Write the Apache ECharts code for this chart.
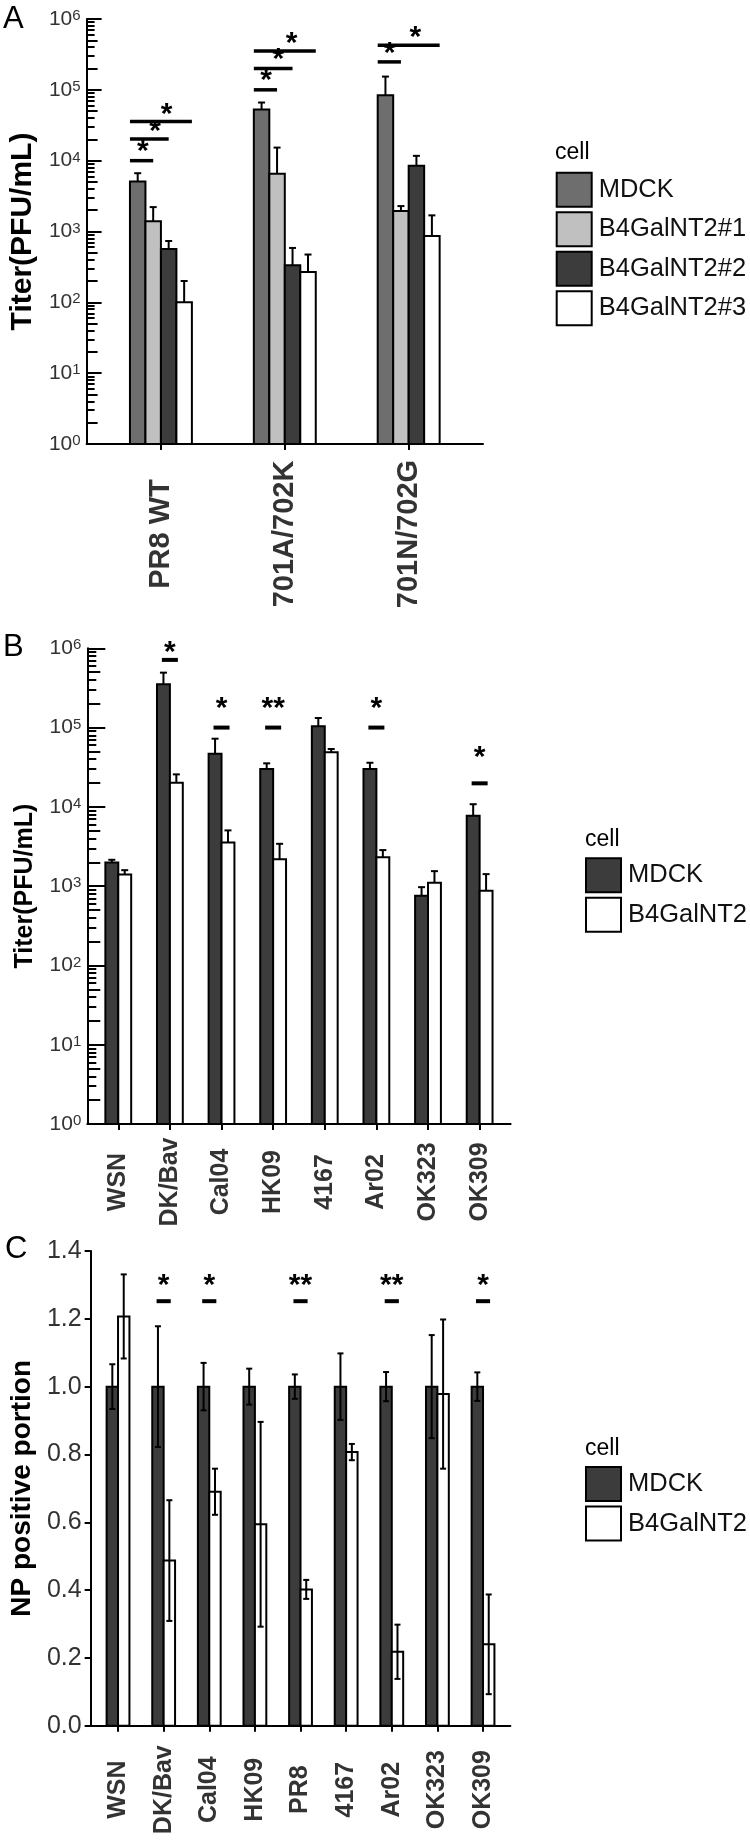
<!DOCTYPE html>
<html><head><meta charset="utf-8">
<script src="https://cdn.jsdelivr.net/npm/echarts@6/dist/echarts.min.js"></script>
<style>html,body{margin:0;padding:0;background:#fff}#c{width:750px;height:1845px}</style>
</head><body><div id="c"></div>
<script>
// ---------- DATA ----------
// Panel A (log titer)
const catsA = ['PR8 WT', '701A/702K', '701N/702G'];
const cellsA = ['MDCK', 'B4GalNT2#1', 'B4GalNT2#2', 'B4GalNT2#3'];
const titerA_MDCK = [5080, 52800, 84100];
const titerA_MDCK_hi = [6650, 66200, 153800];
const titerA_1 = [1390, 6520, 1940];
const titerA_1_hi = [2210, 15300, 2285];
const titerA_2 = [567, 335, 8450];
const titerA_2_hi = [735, 586, 11700];
const titerA_3 = [100, 267, 865];
const titerA_3_hi = [200, 473, 1690];
// significance: [category, line start offset, line end offset, line y, star x offset, star y, text]
const sigA = [
  [1, -0.25, -0.0625, 10000, -0.146, 13550, '*'],
  [1, -0.25, 0.0625, 20300, -0.048, 26500, '*'],
  [1, -0.25, 0.25, 35800, 0.046, 45500, '*'],
  [2, -0.25, -0.0625, 100000, -0.152, 138000, '*'],
  [2, -0.25, 0.0625, 200000, -0.053, 273000, '*'],
  [2, -0.25, 0.25, 353000, 0.054, 458000, '*'],
  [3, -0.25, -0.0625, 248000, -0.154, 331000, '*'],
  [3, -0.25, 0.25, 426000, 0.054, 556000, '*']
];
// Panel B (log titer)
const catsB = ['WSN', 'DK/Bav', 'Cal04', 'HK09', '4167', 'Ar02', 'OK323', 'OK309'];
const cellsB = ['MDCK', 'B4GalNT2'];
const titerB_MDCK = [1990, 352000, 46800, 30000, 103800, 30000, 755, 7730];
const titerB_MDCK_hi = [2150, 493000, 72400, 35400, 132000, 36000, 971, 10800];
const titerB_B4 = [1405, 20100, 3560, 2190, 48800, 2320, 1100, 873];
const titerB_B4_hi = [1590, 25700, 5050, 3420, 53700, 2850, 1546, 1418];
// [category, line y, star y, text]
const sigB = [
  [2, 714000, 908000, '*'],
  [3, 100000, 180000, '*'],
  [4, 100000, 180000, '**'],
  [6, 100000, 180000, '*'],
  [8, 19800, 43000, '*']
];
// Panel C (NP positive portion)
const catsC = ['WSN', 'DK/Bav', 'Cal04', 'HK09', 'PR8', '4167', 'Ar02', 'OK323', 'OK309'];
const cellsC = ['MDCK', 'B4GalNT2'];
const npC_MDCK = [1, 1, 1, 1, 1, 1, 1, 1, 1];
const npC_MDCK_sd = [0.066, 0.178, 0.070, 0.053, 0.036, 0.098, 0.043, 0.152, 0.042];
const npC_B4 = [1.207, 0.487, 0.690, 0.594, 0.402, 0.807, 0.218, 0.978, 0.240];
const npC_B4_sd = [0.124, 0.178, 0.068, 0.302, 0.028, 0.024, 0.080, 0.220, 0.147];
const sigC = [
  [2, 1.252, 1.299, '*'],
  [3, 1.252, 1.299, '*'],
  [5, 1.252, 1.299, '**'],
  [7, 1.252, 1.299, '**'],
  [9, 1.252, 1.299, '*']
];
// tick labels
const logExponents = [0, 1, 2, 3, 4, 5, 6];
const ticksC = [0, 0.2, 0.4, 0.6, 0.8, 1.0, 1.2, 1.4];

// ---------- STYLE / HELPERS ----------
const FF = "'Liberation Sans', Arial, Helvetica, sans-serif";
const TXT = '#333';
const STAR_SHIFT = 0.03;
const majorLog = logExponents.map(e => Math.pow(10, e));
const minor25 = [], minorOther = [];
for (let e = 0; e < 6; e++) {
  for (let k = 2; k <= 9; k++) {
    const v = k * Math.pow(10, e);
    if (k === 2 || k === 5) minor25.push(v); else minorOther.push(v);
  }
}
const idx = arr => arr.map((v, i) => [i + 1, v]);
const errUp = (vals, his) => vals.map((v, i) => [i + 1, v, his[i]]);
const errSd = (vals, sds) => vals.map((v, i) => [i + 1, v - sds[i], v + sds[i]]);

function barRender(off, w, base, fill, lw) {
  return function (params, api) {
    const x = api.value(0), v = api.value(1);
    const p0 = api.coord([x + off - w / 2, v]);
    const p1 = api.coord([x + off + w / 2, base]);
    return {
      type: 'rect',
      shape: { x: p0[0], y: p0[1], width: p1[0] - p0[0], height: p1[1] - p0[1] },
      style: { fill: fill, stroke: '#000', lineWidth: lw }
    };
  };
}
function errRender(off, cap, both) {
  return function (params, api) {
    const x = api.value(0) + off;
    const pLo = api.coord([x, api.value(1)]);
    const pHi = api.coord([x, api.value(2)]);
    const st = { stroke: '#000', lineWidth: 2 };
    const ch = [
      { type: 'line', shape: { x1: pLo[0], y1: pLo[1], x2: pHi[0], y2: pHi[1] }, style: st },
      { type: 'line', shape: { x1: pHi[0] - cap, y1: pHi[1], x2: pHi[0] + cap, y2: pHi[1] }, style: st }
    ];
    if (both) ch.push({ type: 'line', shape: { x1: pLo[0] - cap, y1: pLo[1], x2: pLo[0] + cap, y2: pLo[1] }, style: st });
    return { type: 'group', children: ch };
  };
}
function starText(x, y, t, fs) {
  return { type: 'text', x: x, y: y + fs * STAR_SHIFT, style: { text: t, fontSize: fs, fontWeight: 'bold', fontFamily: FF, fill: '#000', align: 'center', verticalAlign: 'middle' } };
}
function sigRenderA(rows, lw, fs) {
  return function (params, api) {
    const r = rows[params.dataIndex];
    const a = api.coord([r[0] + r[1], r[3]]);
    const b = api.coord([r[0] + r[2], r[3]]);
    const s = api.coord([r[0] + r[4], r[5]]);
    return { type: 'group', children: [
      { type: 'line', shape: { x1: a[0], y1: a[1], x2: b[0], y2: b[1] }, style: { stroke: '#000', lineWidth: lw } },
      starText(s[0], s[1], r[6], fs)
    ] };
  };
}
function sigRenderPair(rows, half, lw, fs) {
  return function (params, api) {
    const r = rows[params.dataIndex];
    const a = api.coord([r[0] - half, r[1]]);
    const b = api.coord([r[0] + half, r[1]]);
    const s = api.coord([r[0], r[2]]);
    return { type: 'group', children: [
      { type: 'line', shape: { x1: a[0], y1: a[1], x2: b[0], y2: b[1] }, style: { stroke: '#000', lineWidth: lw } },
      starText(s[0], s[1], r[3], fs)
    ] };
  };
}

function logYAxes(grid, tickLen, yName, nameSize, nameGap) {
  const rich = {
    b: { fontSize: 21, color: TXT, fontFamily: FF },
    s: { fontSize: 15, color: TXT, fontFamily: FF, verticalAlign: 'top' }
  };
  const common = { type: 'log', logBase: 10, gridIndex: grid, min: 1, max: 1e6, position: 'left', splitLine: { show: false } };
  return [
    Object.assign({}, common, {
      axisLine: { show: true, onZero: false, lineStyle: { color: '#000', width: 2 } },
      axisTick: { show: true, inside: true, length: tickLen, customValues: majorLog, lineStyle: { color: '#000', width: 2 } },
      axisLabel: { customValues: majorLog, margin: 6, formatter: v => '{b|10}{s|' + logExponents[majorLog.indexOf(v)] + '}', rich: rich },
      name: yName, nameLocation: 'middle', nameRotate: 90, nameGap: nameGap,
      nameTextStyle: { fontSize: nameSize, fontWeight: 'bold', color: '#000', fontFamily: FF }
    }),
    Object.assign({}, common, {
      axisLine: { show: false }, axisLabel: { show: false },
      axisTick: { show: true, inside: true, length: Math.round(tickLen * 0.7), customValues: minor25, lineStyle: { color: '#000', width: 2 } }
    }),
    Object.assign({}, common, {
      axisLine: { show: false }, axisLabel: { show: false },
      axisTick: { show: true, inside: true, length: Math.round(tickLen * 0.5), customValues: minorOther, lineStyle: { color: '#000', width: 2 } }
    })
  ];
}
function catXAxis(grid, cats, fs, margin) {
  const vals = cats.map((c, i) => i + 1);
  return {
    type: 'value', gridIndex: grid, min: 0.4, max: cats.length + 0.6, splitLine: { show: false },
    axisLine: { show: true, onZero: false, lineStyle: { color: '#000', width: 2 } },
    axisTick: { show: true, length: 6, customValues: vals, lineStyle: { color: '#000', width: 2 } },
    axisLabel: {
      customValues: vals, formatter: v => cats[Math.round(v) - 1], rotate: 90, align: 'center', verticalAlign: 'middle',
      margin: margin, fontSize: fs, fontWeight: 'bold', color: TXT, fontFamily: FF
    }
  };
}

const colA = ['#6e6e6e', '#c0c0c0', '#3c3c3c', '#ffffff'];
const colB = ['#3c3c3c', '#ffffff'];

const series = [];
// Panel A bars
const valsA = [titerA_MDCK, titerA_1, titerA_2, titerA_3];
const hisA = [titerA_MDCK_hi, titerA_1_hi, titerA_2_hi, titerA_3_hi];
cellsA.forEach((name, j) => {
  const off = -0.25 + (j + 0.5) * 0.125;
  series.push({ type: 'custom', name: 'A:' + name, xAxisIndex: 0, yAxisIndex: 0, data: idx(valsA[j]), encode: { x: 0, y: 1 },
    itemStyle: { color: colA[j], borderColor: '#000', borderWidth: 2 }, renderItem: barRender(off, 0.125, 1, colA[j], 2) });
});
cellsA.forEach((name, j) => {
  const off = -0.25 + (j + 0.5) * 0.125;
  series.push({ type: 'custom', xAxisIndex: 0, yAxisIndex: 0, data: errUp(valsA[j], hisA[j]), encode: { x: 0, y: [1, 2] }, z: 3,
    renderItem: errRender(off, 3.5, false) });
});
series.push({ type: 'custom', xAxisIndex: 0, yAxisIndex: 0, data: sigA.map(r => [r[0], r[3]]), encode: { x: 0, y: 1 }, z: 4,
  renderItem: sigRenderA(sigA, 3.5, 30) });

// Panel B
const valsB = [titerB_MDCK, titerB_B4];
const hisB = [titerB_MDCK_hi, titerB_B4_hi];
cellsB.forEach((name, j) => {
  const off = j === 0 ? -0.125 : 0.125;
  series.push({ type: 'custom', name: 'B:' + name, xAxisIndex: 1, yAxisIndex: 3, data: idx(valsB[j]), encode: { x: 0, y: 1 },
    itemStyle: { color: colB[j], borderColor: '#000', borderWidth: 2 }, renderItem: barRender(off, 0.25, 1, colB[j], 2) });
  series.push({ type: 'custom', xAxisIndex: 1, yAxisIndex: 3, data: errUp(valsB[j], hisB[j]), encode: { x: 0, y: [1, 2] }, z: 3,
    renderItem: errRender(off, 3.5, false) });
});
series.push({ type: 'custom', xAxisIndex: 1, yAxisIndex: 3, data: sigB.map(r => [r[0], r[1]]), encode: { x: 0, y: 1 }, z: 4,
  renderItem: sigRenderPair(sigB, 0.155, 4, 30) });

// Panel C
const valsC = [npC_MDCK, npC_B4];
const sdsC = [npC_MDCK_sd, npC_B4_sd];
cellsC.forEach((name, j) => {
  const off = j === 0 ? -0.125 : 0.125;
  series.push({ type: 'custom', name: 'C:' + name, xAxisIndex: 2, yAxisIndex: 6, data: idx(valsC[j]), encode: { x: 0, y: 1 },
    itemStyle: { color: colB[j], borderColor: '#000', borderWidth: 2 }, renderItem: barRender(off, 0.25, 0, colB[j], 2) });
  series.push({ type: 'custom', xAxisIndex: 2, yAxisIndex: 6, data: errSd(valsC[j], sdsC[j]), encode: { x: 0, y: [1, 2] }, z: 3,
    renderItem: errRender(off, 3, true) });
});
series.push({ type: 'custom', xAxisIndex: 2, yAxisIndex: 6, data: sigC.map(r => [r[0], r[1]]), encode: { x: 0, y: 1 }, z: 4,
  renderItem: sigRenderPair(sigC, 0.155, 4, 30) });

function legendOf(prefix, names, left, top) {
  return {
    data: names.map(n => prefix + n), orient: 'vertical', left: left, top: top, padding: 0,
    itemWidth: 35, itemHeight: 34, itemGap: 3.5, icon: 'rect', selectedMode: false,
    formatter: n => n.slice(2),
    itemStyle: { borderColor: '#000', borderWidth: 2 },
    textStyle: { fontSize: 25.5, color: '#111', fontFamily: FF, padding: [0, 0, 0, 2] }
  };
}

const yAxes = [].concat(
  logYAxes(0, 15, 'Titer(PFU/mL)', 30, 45),
  logYAxes(1, 18, 'Titer(PFU/mL)', 25, 50),
  [{
    type: 'value', gridIndex: 2, min: 0, max: 1.4, interval: 0.2, position: 'left', splitLine: { show: false },
    axisLine: { show: true, onZero: false, lineStyle: { color: '#000', width: 2 } },
    axisTick: { show: true, length: 6, lineStyle: { color: '#000', width: 2 } },
    axisLabel: { margin: 9, fontSize: 25, color: TXT, fontFamily: FF, formatter: v => ticksC[Math.round(v / 0.2)].toFixed(1) },
    name: 'NP positive portion', nameLocation: 'middle', nameRotate: 90, nameGap: 53,
    nameTextStyle: { fontSize: 28, fontWeight: 'bold', color: '#000', fontFamily: FF }
  }]
);

function txt(t, x, y, fs) {
  return { type: 'text', x: x, y: y, style: { text: t, fontSize: fs, fontFamily: FF, fill: '#000', verticalAlign: 'middle', align: 'left' } };
}

const option = {
  animation: false,
  backgroundColor: '#fff',
  grid: [
    { left: 83, top: 19, width: 400, height: 425 },
    { left: 87.3, top: 648.3, width: 423.3, height: 475.7 },
    { left: 87.4, top: 1251, width: 423, height: 474.7 }
  ],
  xAxis: [catXAxis(0, catsA, 29, 90), catXAxis(1, catsB, 25, 58), catXAxis(2, catsC, 25, 64)],
  yAxis: yAxes,
  legend: [
    legendOf('A:', cellsA, 555.7, 171.7),
    legendOf('B:', cellsB, 585, 857.3),
    legendOf('C:', cellsC, 585, 1466)
  ],
  graphic: [
    txt('A', 3, 19, 31), txt('B', 3, 647.5, 31), txt('C', 5, 1249, 31),
    txt('cell', 555, 153, 23), txt('cell', 585, 840, 23), txt('cell', 585, 1449, 23)
  ],
  series: series
};
const chart = echarts.init(document.getElementById('c'), null, { renderer: 'canvas' });
chart.setOption(option);
</script></body></html>
